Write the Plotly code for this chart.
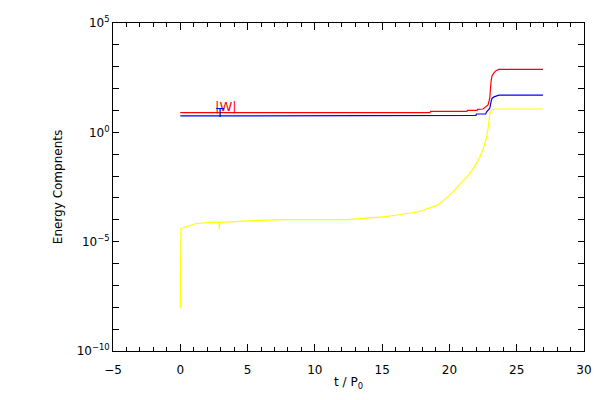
import math
import plotly.graph_objects as go

# |W| (red)
w_t = [0, 18.55, 18.6, 21.3, 21.35, 22.05, 22.1, 22.5, 22.87, 23.0, 23.09, 23.16, 23.31, 23.46, 23.68, 26.95]
w_val = [7.94, 7.94, 9.12, 9.12, 10.0, 10.0, 11.2, 11.7, 17.8, 37.0, 200, 380, 525, 660, 760, 760]

# T (blue)
t_t = [0, 13.0, 13.05, 21.97, 22.0, 22.7, 22.75, 23.0, 23.09, 23.16, 23.31, 23.53, 23.68, 26.95]
t_val = [5.6, 5.6, 6.0, 6.0, 6.9, 6.9, 8.5, 12.6, 25.0, 35.5, 41.7, 46.8, 50.0, 50.0]

# third component (yellow)
y_t = [0.0, 0.01, 0.04, 0.05, 0.37, 0.89, 1.19, 2.3, 2.88, 2.9, 2.92, 4.3, 5.8, 7.4, 12.4, 13.6,
       14.1, 15.3, 16.0, 16.5, 17.2, 17.8, 18.2, 18.6, 19.1, 19.45, 19.8, 20.3, 20.8, 21.3, 21.8,
       22.27, 22.52, 22.77, 22.89, 23.01, 23.14, 23.4, 26.95]
y_val = [9.3e-9, 1.26e-7, 1.26e-7, 3.98e-5, 4.68e-5, 6.17e-5, 6.76e-5, 7.59e-5, 7.59e-5, 3.63e-5, 7.59e-5,
         8.51e-5, 9.55e-5, 1.02e-4, 1.02e-4, 1.15e-4, 1.26e-4, 1.41e-4, 1.62e-4, 1.78e-4, 2.04e-4,
         2.40e-4, 2.95e-4, 3.63e-4, 4.68e-4, 6.61e-4, 1.05e-3, 2.0e-3, 4.37e-3, 9.12e-3, 0.0224,
         0.0759, 0.186, 0.631, 1.82, 7.41, 10.5, 11.7, 11.7]

labels = ["|W|", "T"]
label_t = [3.4, 2.95]
label_val = [14.5, 8.5]

y_tickvals = [1e-10, 1e-9, 1e-8, 1e-7, 1e-6, 1e-5, 1e-4, 1e-3, 1e-2, 1e-1, 1, 10, 100, 1e3, 1e4, 1e5]
y_ticktext = ["10<sup>\u221210</sup>", "", "", "", "", "10<sup>\u22125</sup>", "", "", "", "",
              "10<sup>0</sup>", "", "", "", "", "10<sup>5</sup>"]

FONT = "DejaVu Sans"

fig = go.Figure()
fig.add_trace(go.Scatter(x=w_t, y=w_val, mode="lines", line=dict(color="#ff0000", width=1.2), showlegend=False))
fig.add_trace(go.Scatter(x=t_t, y=t_val, mode="lines", line=dict(color="#0000ff", width=1.2), showlegend=False))
fig.add_trace(go.Scatter(x=y_t, y=y_val, mode="lines", line=dict(color="#ffff00", width=1.2), showlegend=False))

for txt, tx, tv, col in zip(labels, label_t, label_val, ["#ff0000", "#0000ff"]):
    fig.add_annotation(x=tx, y=math.log10(tv), text=txt, showarrow=False,
                       font=dict(color=col, size=13, family=FONT), xanchor="center", yanchor="middle")

# page body has an 8px default margin; size the figure so the plot box lands where the reference's does
fig.update_layout(
    width=592, height=392,
    margin=dict(l=105, r=16, t=15, b=49),
    paper_bgcolor="white", plot_bgcolor="white",
    font=dict(family=FONT, size=12, color="black"),
)
fig.update_xaxes(
    range=[-5, 30], dtick=5, tick0=0, automargin=False,
    showgrid=False, zeroline=False,
    showline=True, linecolor="black", linewidth=1, mirror="allticks",
    ticks="inside", ticklen=7, tickcolor="black", ticklabelstandoff=8,
    minor=dict(dtick=1, ticks="inside", ticklen=4, tickcolor="black", showgrid=False),
    title=dict(text="t / P<sub>0</sub>", standoff=1, font=dict(size=12)),
    tickfont=dict(size=12),
)
fig.update_yaxes(
    type="log", range=[-10, 5], automargin=False,
    tickmode="array", tickvals=y_tickvals, ticktext=y_ticktext,
    showgrid=False, zeroline=False,
    showline=True, linecolor="black", linewidth=1, mirror="allticks",
    ticks="inside", ticklen=6, tickcolor="black",
    title=dict(text="Energy Compnents", standoff=11, font=dict(size=12)),
    tickfont=dict(size=12),
)

fig.write_html("out.html")
